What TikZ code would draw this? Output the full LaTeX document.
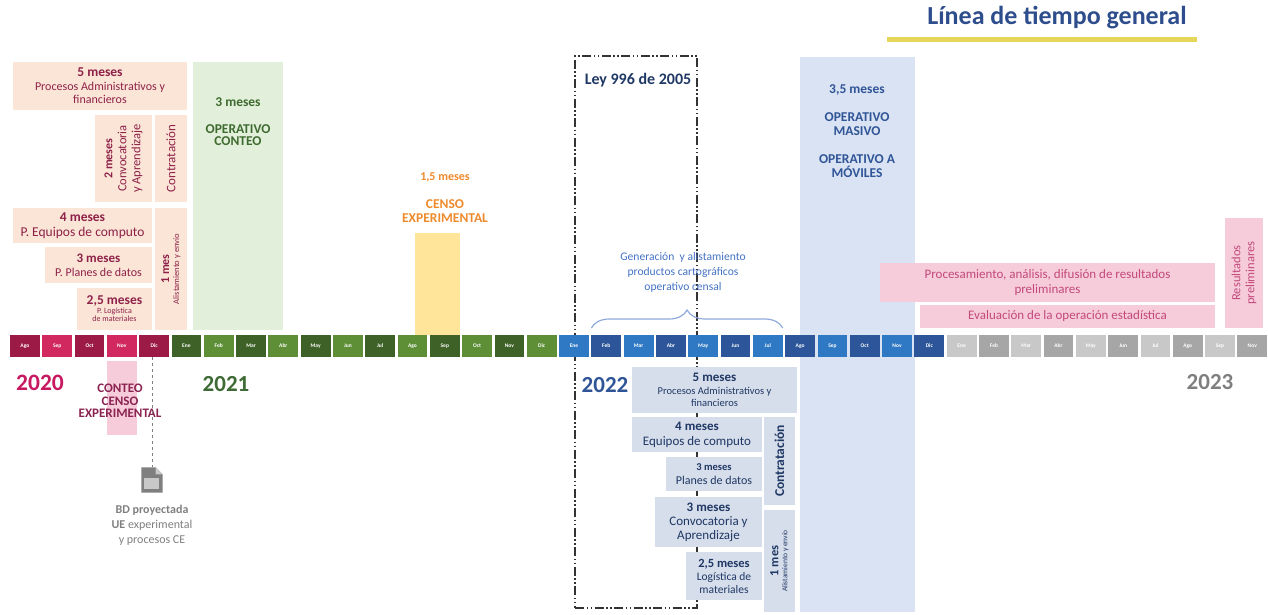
\documentclass[tikz,border=0pt]{standalone}
\usepackage{fontspec}
\setmainfont{Carlito}
\usetikzlibrary{decorations.pathreplacing}
\definecolor{mA}{HTML}{9B1B46}
\definecolor{mB}{HTML}{D1285F}
\definecolor{gA}{HTML}{3D6127}
\definecolor{gB}{HTML}{5E8F37}
\definecolor{bA}{HTML}{2C5699}
\definecolor{bB}{HTML}{2F78C3}
\definecolor{grA}{HTML}{A6A6A6}
\definecolor{grB}{HTML}{C8C8C8}
\definecolor{peach}{HTML}{FBE5D6}
\definecolor{ptxt}{HTML}{8E2149}
\definecolor{lgreen}{HTML}{E2EFDA}
\definecolor{gtx}{HTML}{3F6B30}
\definecolor{yel}{HTML}{FFE599}
\definecolor{orng}{HTML}{EE8A2C}
\definecolor{lblue}{HTML}{DAE3F3}
\definecolor{lblueb}{HTML}{D6DDEB}
\definecolor{navy}{HTML}{1F3864}
\definecolor{btxt}{HTML}{2F5597}
\definecolor{gentxt}{HTML}{4472C4}
\definecolor{pink}{HTML}{F7CCDA}
\definecolor{pinktxt}{HTML}{C2497A}
\definecolor{contxt}{HTML}{8A2350}
\definecolor{yr20}{HTML}{C8185F}
\definecolor{yr21}{HTML}{3E6B35}
\definecolor{graytxt}{HTML}{7F7F7F}
\definecolor{titl}{HTML}{2E4D8C}
\definecolor{ulc}{HTML}{E6D65A}
\definecolor{bracec}{HTML}{8FAADC}
\definecolor{ddc}{HTML}{333333}
\newcommand{\fsz}[2]{\fontsize{#1}{#2}\selectfont}
\begin{document}
\begin{tikzpicture}[x=1pt,y=-1pt,
  bx/.style={inner sep=0pt, outer sep=0pt, anchor=north west, align=center},
  rbx/.style={inner sep=0pt, outer sep=0pt, rotate=90, align=center},
  cell/.style={minimum width=29.8, minimum height=22, inner sep=0pt, outer sep=0pt, text=white, font=\fsz{5.5}{6}\bfseries},
  lbl/.style={inner sep=0pt, align=center},
  ddbox/.style={draw=ddc, line width=1.6, dash pattern=on 9pt off 2.5pt on 1.5pt off 2.5pt on 1.5pt off 2.5pt},
]
\useasboundingbox (0,0) rectangle (1268,614);

% ---------- 2020/2021 preparation boxes (top left)
\node[bx, fill=peach, minimum width=174, minimum height=48, text=ptxt, font=\fsz{12}{13.5}] (pA) at (13,62)
  {{\fsz{13.5}{14}\bfseries 5 meses}\\Procesos Administrativos y\\financieros};
\node[rbx, fill=peach, minimum width=87, minimum height=57, text=ptxt, font=\fsz{12.5}{14}] (pB) at (123.5,158.5)
  {{\fsz{12}{14}\bfseries 2 meses}\\Convocatoria\\y Aprendizaje};
\node[rbx, fill=peach, minimum width=87, minimum height=32, text=ptxt, font=\fsz{13}{14}] (pC) at (171,158.5)
  {Contratación};
\node[bx, fill=peach, minimum width=139, minimum height=35, text=ptxt, font=\fsz{13.5}{15}] (pD) at (13,208)
  {{\bfseries 4 meses}\\P. Equipos de computo};
\node[bx, fill=peach, minimum width=107, minimum height=36, text=ptxt, font=\fsz{12}{14}] (pE) at (45,247)
  {{\fsz{13}{14}\bfseries 3 meses}\\P. Planes de datos};
\node[bx, fill=peach, minimum width=75, minimum height=42, text=ptxt, font=\fsz{8}{8.5}] (pF) at (77,288)
  {{\fsz{13.5}{13}\bfseries 2,5 meses}\\P. Logística\\de materiales};
\node[rbx, fill=peach, minimum width=122, minimum height=32, text=ptxt, font=\fsz{8.5}{10}] (pG) at (171,269)
  {{\fsz{12}{13}\bfseries 1 mes}\\Alistamiento y envío};

% ---------- operativo conteo
\node[bx, fill=lgreen, minimum width=90, minimum height=268] (gbox) at (193,62) {};
\node[lbl, text=gtx, font=\fsz{13.5}{14}\bfseries] (g1) at (238,102) {3 meses};
\node[lbl, text=gtx, font=\fsz{13.5}{12.5}\bfseries] (g2) at (238,135) {OPERATIVO\\CONTEO};

% ---------- censo experimental
\node[bx, fill=yel, minimum width=45, minimum height=102] (ybox) at (415,233) {};
\node[lbl, text=orng, font=\fsz{12}{13}\bfseries] (o1) at (445,177) {1,5 meses};
\node[lbl, text=orng, font=\fsz{13.5}{13.5}\bfseries] (o2) at (445,211) {CENSO\\EXPERIMENTAL};

% ---------- Ley 996
\node[bx, ddbox, minimum width=122, minimum height=552] (ley) at (575,56) {};
\node[lbl, text=navy, font=\fsz{16}{17}\bfseries] (leyt) at (638,80) {Ley 996 de 2005};

% ---------- operativo masivo
\node[bx, fill=lblue, minimum width=115, minimum height=555] (obox) at (800,57) {};
\node[lbl, text=btxt, font=\fsz{13.5}{14}\bfseries] (ob1) at (857,90) {3,5 meses};
\node[lbl, text=btxt, font=\fsz{13.5}{14}\bfseries] (ob2) at (857,124) {OPERATIVO\\MASIVO};
\node[lbl, text=btxt, font=\fsz{13.5}{14}\bfseries] (ob3) at (857,166) {OPERATIVO A\\MÓVILES};

% ---------- 2023 processing
\node[bx, fill=pink, minimum width=335, minimum height=39, text=pinktxt, font=\fsz{13}{14.5}] (proc) at (880,263)
  {Procesamiento, análisis, difusión de resultados\\preliminares};
\node[bx, fill=pink, minimum width=295, minimum height=23, text=pinktxt, font=\fsz{13}{14}] (eval) at (920,305)
  {Evaluación de la operación estadística};
\node[rbx, fill=pink, minimum width=110, minimum height=38, text=pinktxt, font=\fsz{12.5}{14}] (resu) at (1244,273)
  {Resultados\\preliminares};

% ---------- title
\node[lbl, text=titl, font=\fsz{26}{28}\bfseries] (title) at (1057,18) {Línea de tiempo general};
\coordinate (ulA) at (887,39);
\coordinate (ulB) at (1197,39);
\draw[ulc, line width=5] (ulA) -- (ulB);

% ---------- 2020 conteo below bar
\node[bx, fill=pink, minimum width=30, minimum height=74] (cbox) at (107,361) {};

% ---------- 2022 preparation boxes (bottom)
\node[bx, fill=lblueb, minimum width=165, minimum height=46, text=navy, font=\fsz{10.5}{12.5}] (q1) at (632,367)
  {{\fsz{13}{13}\bfseries 5 meses}\\Procesos Administrativos y\\financieros};
\node[bx, fill=lblueb, minimum width=130, minimum height=35, text=navy, font=\fsz{13}{15}] (q2) at (632,417)
  {{\bfseries 4 meses}\\Equipos de computo};
\node[bx, fill=lblueb, minimum width=96, minimum height=34, text=navy, font=\fsz{12}{14}] (q3) at (666,457)
  {{\fsz{10.5}{13}\bfseries 3 meses}\\Planes de datos};
\node[bx, fill=lblueb, minimum width=107, minimum height=50, text=navy, font=\fsz{13}{14}] (q4) at (655,497)
  {{\bfseries 3 meses}\\Convocatoria y\\Aprendizaje};
\node[bx, fill=lblueb, minimum width=76, minimum height=48, text=navy, font=\fsz{11.5}{13}] (q5) at (686,552)
  {{\fsz{12.5}{13}\bfseries 2,5 meses}\\Logística de\\materiales};
\node[rbx, fill=lblueb, minimum width=88, minimum height=31, text=navy, font=\fsz{13.5}{14}\bfseries] (q6) at (779.5,461)
  {Contratación};
\node[rbx, fill=lblueb, minimum width=102, minimum height=31, text=navy, font=\fsz{7.5}{9}] (q7) at (779.5,561)
  {{\fsz{12.5}{13}\bfseries 1 mes}\\Alistamiento y envío};

% ---------- month bar
\foreach \m/\c [count=\i from 0] in {Ago/mA,Sep/mB,Oct/mA,Nov/mB,Dic/mA,
  Ene/gA,Feb/gB,Mar/gA,Abr/gB,May/gA,Jun/gB,Jul/gA,Ago/gB,Sep/gA,Oct/gB,Nov/gA,Dic/gB,
  Ene/bB,Feb/bA,Mar/bB,Abr/bA,May/bB,Jun/bA,Jul/bB,Ago/bA,Sep/bB,Oct/bA,Nov/bB,Dic/bA,
  Ene/grB,Feb/grA,Mar/grB,Abr/grA,May/grB,Jun/grA,Jul/grB,Ago/grA,Sep/grB,Nov/grA}
  \node[cell, fill=\c] (m\i) at ({24.9+32.3*\i},346) {\m};

% ---------- brace
\draw[bracec, line width=1.2, decorate, decoration={brace, amplitude=18pt}]
  ([yshift=7pt]m18.north west) -- ([yshift=7pt]m23.north east);
\node[lbl, text=gentxt, font=\fsz{11.6}{15}] (gen) at (683,272)
  {Generación \ y alistamiento\\productos cartográficos\\operativo censal};

% ---------- years
\node[lbl, text=yr20, font=\fsz{23.5}{25}\bfseries] (y20) at (40,383) {2020};
\node[lbl, text=yr21, font=\fsz{23}{25}\bfseries] (y21) at (226,384) {2021};
\node[lbl, text=btxt, font=\fsz{23}{25}\bfseries] (y22) at (605,385) {2022};
\node[lbl, text=graytxt, font=\fsz{23}{25}\bfseries] (y23) at (1210,382) {2023};

\node[lbl, text=contxt, font=\fsz{13}{12.5}\bfseries] (cte) at (120,401) {CONTEO\\CENSO\\EXPERIMENTAL};

% ---------- document icon + BD
\node[inner sep=0pt, minimum width=21, minimum height=25] (doc) at (152,480) {};
\fill[graytxt] (doc.north west) -- ([xshift=-7pt]doc.north east) -- ([yshift=-7pt]doc.north east)
  -- (doc.south east) -- (doc.south west) -- cycle;
\fill[grB] ([xshift=-7pt]doc.north east) -- ([xshift=-7pt,yshift=-7pt]doc.north east) -- ([yshift=-7pt]doc.north east) -- cycle;
\fill[grB] ([xshift=3pt,yshift=-11pt]doc.north west) rectangle ([xshift=-4pt,yshift=4pt]doc.south east);
\draw[graytxt, dashed, line width=0.8] (doc.north |- m4.south) -- (doc.north);
\node[lbl, text=graytxt, font=\fsz{12}{15}] (bd) at (152,525)
  {\textbf{BD proyectada}\\\textbf{UE} experimental\\y procesos CE};
\end{tikzpicture}
\end{document}
